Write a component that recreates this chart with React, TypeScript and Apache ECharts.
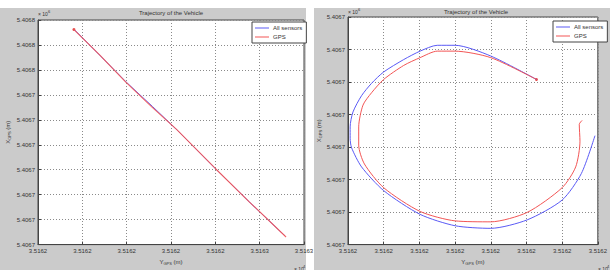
import React, { useEffect, useRef } from "react";
import * as echarts from "echarts";

const seriesNames = ["All sensors", "GPS"];
const titleText = "Trajectory of the Vehicle";

// Left panel (straight trajectory)
const leftXTicks = ["3.5162", "3.5162", "3.5162", "3.5162", "3.5162", "3.5163", "3.5163"];
const leftYTicks = ["5.4067", "5.4067", "5.4067", "5.4067", "5.4067", "5.4067", "5.4067", "5.4068", "5.4068", "5.4068"];
const leftSensorsX = [351617.66, 351618.83, 351619.99, 351621.17, 351622.29, 351624.04, 351625.57, 351627.15];
const leftSensorsY = [5406758.39, 5406754.2, 5406750.01, 5406746.12, 5406742.31, 5406736.05, 5406730.71, 5406725.37];
const leftGpsX = [351617.62, 351618.79, 351619.95, 351621.12, 351622.25, 351624.0, 351625.53, 351627.19];
const leftGpsY = [5406758.47, 5406754.36, 5406750.08, 5406746.12, 5406742.46, 5406736.2, 5406730.86, 5406725.22];
const leftStart = [351617.62, 5406758.47];

// Right panel (loop trajectory)
const rightXTicks = ["3.5162", "3.5162", "3.5162", "3.5162", "3.5162", "3.5162", "3.5162", "3.5162"];
const rightYTicks = ["5.4067", "5.4067", "5.4067", "5.4067", "5.4067", "5.4067", "5.4067", "5.4067"];
const rightSensorsX = [351620.64, 351620.0, 351619.5, 351619.25, 351619.01, 351618.78, 351618.5, 351618.33, 351618.19, 351618.07, 351618.03, 351618.03, 351618.05, 351618.19, 351618.5, 351619.01, 351619.5, 351620.0, 351620.51, 351621.0, 351621.27, 351621.46];
const rightSensorsY = [5406705.08, 5406705.8, 5406706.13, 5406706.13, 5406705.95, 5406705.69, 5406705.31, 5406704.96, 5406704.58, 5406704.08, 5406703.62, 5406703.27, 5406702.98, 5406702.39, 5406701.66, 5406700.93, 5406700.58, 5406700.5, 5406700.76, 5406701.37, 5406702.19, 5406703.35];
const rightGpsX = [351620.64, 351620.0, 351619.5, 351619.25, 351619.01, 351618.78, 351618.5, 351618.33, 351618.21, 351618.15, 351618.15, 351618.23, 351618.5, 351619.01, 351619.5, 351620.0, 351620.51, 351621.0, 351621.19, 351621.25, 351621.24, 351621.28];
const rightGpsY = [5406705.08, 5406705.75, 5406705.95, 5406705.95, 5406705.75, 5406705.51, 5406705.08, 5406704.67, 5406704.29, 5406703.62, 5406703.06, 5406702.48, 5406701.75, 5406701.02, 5406700.73, 5406700.7, 5406700.99, 5406701.75, 5406702.39, 5406703.18, 5406703.7, 5406703.82];
const rightStart = [351620.64, 5406705.08];

const BLUE = "#5a5af5";
const RED = "#f25555";
const GRAY = "#cbcbcb";
const TXT = "#333";

const zip = (xs: number[], ys: number[]) => xs.map((x, i) => [x, ys[i]]);

function axisCommon(labels: string[]) {
  return {
    type: "value" as const,
    axisLine: { show: true, lineStyle: { color: "#444", width: 1 } },
    axisTick: { show: true, inside: true, length: 3, lineStyle: { color: "#444" } },
    axisLabel: {
      fontSize: 6,
      color: TXT,
      margin: 3,
      fontFamily: "Liberation Sans",
      formatter: (_v: number, i: number) => labels[i] ?? "",
    },
    splitLine: { show: true, lineStyle: { type: [1, 2], color: "#8a8a8a", width: 1 } },
    nameTextStyle: {
      fontSize: 6,
      color: TXT,
      fontFamily: "Liberation Sans",
      rich: {
        a: { fontSize: 6, color: TXT, fontFamily: "Liberation Sans" },
        b: { fontSize: 4, color: TXT, fontFamily: "Liberation Sans", padding: [3, 0, 0, 0] },
      },
    },
  };
}

function legendCfg(left: number, top: number) {
  return {
    left,
    top,
    orient: "vertical" as const,
    data: seriesNames,
    icon: "rect",
    itemWidth: 14,
    itemHeight: 1,
    itemGap: 3,
    padding: [3, 4, 3, 3],
    backgroundColor: "#fff",
    borderColor: "#444",
    borderWidth: 1,
    borderRadius: 0,
    textStyle: { fontSize: 6, color: TXT, fontFamily: "Liberation Sans", padding: [0, 0, 0, -1] },
    selectedMode: false,
  };
}

export default function App() {
  const ref = useRef<HTMLDivElement>(null);
  useEffect(() => {
    if (!ref.current) return;
    const chart = echarts.init(ref.current, undefined, { renderer: "svg" });
    chart.setOption({
      animation: false,
      backgroundColor: "#fff",
      graphic: [
        { type: "rect", z: -100, silent: true, shape: { x: 0, y: 8, width: 306, height: 262 }, style: { fill: GRAY } },
        { type: "rect", z: -100, silent: true, shape: { x: 314, y: 8, width: 296, height: 262 }, style: { fill: GRAY } },
        { type: "text", left: 38, top: 11, style: { text: "× 10", fontSize: 5, fill: TXT, fontFamily: "Liberation Sans" } },
        { type: "text", left: 48, top: 9, style: { text: "6", fontSize: 4, fill: TXT, fontFamily: "Liberation Sans" } },
        { type: "text", left: 348, top: 9, style: { text: "× 10", fontSize: 5, fill: TXT, fontFamily: "Liberation Sans" } },
        { type: "text", left: 358, top: 7, style: { text: "6", fontSize: 4, fill: TXT, fontFamily: "Liberation Sans" } },
        { type: "text", left: 294, top: 266, style: { text: "× 10", fontSize: 5, fill: TXT, fontFamily: "Liberation Sans" } },
        { type: "text", left: 303, top: 264, style: { text: "4", fontSize: 4, fill: TXT, fontFamily: "Liberation Sans" } },
        { type: "text", left: 598, top: 266, style: { text: "× 10", fontSize: 5, fill: TXT, fontFamily: "Liberation Sans" } },
        { type: "text", left: 607, top: 264, style: { text: "4", fontSize: 4, fill: TXT, fontFamily: "Liberation Sans" } },
      ],
      title: [
        {
          text: titleText,
          left: 171,
          top: 10,
          textAlign: "center",
          padding: 0,
          textStyle: { fontSize: 6, fontWeight: "normal", color: TXT, fontFamily: "Liberation Sans" },
        },
        {
          text: titleText,
          left: 476,
          top: 9,
          textAlign: "center",
          padding: 0,
          textStyle: { fontSize: 6, fontWeight: "normal", color: TXT, fontFamily: "Liberation Sans" },
        },
      ],
      legend: [legendCfg(252, 22), legendCfg(553, 21)],
      grid: [
        { left: 38, right: 306, top: 20, bottom: 13, show: true, backgroundColor: "#fff", borderColor: "#444", borderWidth: 1 },
        { left: 348, right: 5, top: 17, bottom: 13, show: true, backgroundColor: "#fff", borderColor: "#444", borderWidth: 1 },
      ],
      xAxis: [
        {
          ...axisCommon(leftXTicks),
          gridIndex: 0,
          min: 351616,
          max: 351628,
          interval: 2,
          name: "{a|Y}{b|GPS}{a| (m)}",
          nameLocation: "middle",
          nameGap: 8,
        },
        {
          ...axisCommon(rightXTicks),
          gridIndex: 1,
          min: 351618,
          max: 351621.5,
          interval: 0.5,
          name: "{a|Y}{b|GPS}{a| (m)}",
          nameLocation: "middle",
          nameGap: 8,
        },
      ],
      yAxis: [
        {
          ...axisCommon(leftYTicks),
          gridIndex: 0,
          min: 5406724,
          max: 5406760,
          interval: 4,
          name: "{a|X}{b|GPS}{a| (m)}",
          nameLocation: "middle",
          nameGap: 27,
        },
        {
          ...axisCommon(rightYTicks),
          gridIndex: 1,
          min: 5406700,
          max: 5406707,
          interval: 1,
          name: "{a|X}{b|GPS}{a| (m)}",
          nameLocation: "middle",
          nameGap: 24,
        },
      ],
      series: [
        {
          name: seriesNames[0],
          type: "line",
          xAxisIndex: 0,
          yAxisIndex: 0,
          data: zip(leftSensorsX, leftSensorsY),
          showSymbol: false,
          symbol: "none",
          lineStyle: { color: BLUE, width: 1 },
          itemStyle: { color: BLUE },
        },
        {
          name: seriesNames[1],
          type: "line",
          xAxisIndex: 0,
          yAxisIndex: 0,
          data: zip(leftGpsX, leftGpsY),
          showSymbol: false,
          symbol: "none",
          lineStyle: { color: RED, width: 1.1, opacity: 0.9 },
          itemStyle: { color: RED },
        },
        {
          name: "start",
          type: "scatter",
          xAxisIndex: 0,
          yAxisIndex: 0,
          data: [leftStart],
          symbol: "circle",
          symbolSize: 3,
          itemStyle: { color: "#e02020" },
        },
        {
          name: seriesNames[0],
          type: "line",
          xAxisIndex: 1,
          yAxisIndex: 1,
          data: zip(rightSensorsX, rightSensorsY),
          showSymbol: false,
          symbol: "none",
          smooth: 0.25,
          lineStyle: { color: BLUE, width: 1 },
          itemStyle: { color: BLUE },
        },
        {
          name: seriesNames[1],
          type: "line",
          xAxisIndex: 1,
          yAxisIndex: 1,
          data: zip(rightGpsX, rightGpsY),
          showSymbol: false,
          symbol: "none",
          smooth: 0.25,
          lineStyle: { color: RED, width: 1 },
          itemStyle: { color: RED },
        },
        {
          name: "start",
          type: "scatter",
          xAxisIndex: 1,
          yAxisIndex: 1,
          data: [rightStart],
          symbol: "circle",
          symbolSize: 3,
          itemStyle: { color: "#e02020" },
        },
      ],
    });
    return () => chart.dispose();
  }, []);
  return (
    <div
      ref={ref}
      style={{ position: "fixed", left: 0, top: 0, width: 610, height: 270 }}
    />
  );
}
